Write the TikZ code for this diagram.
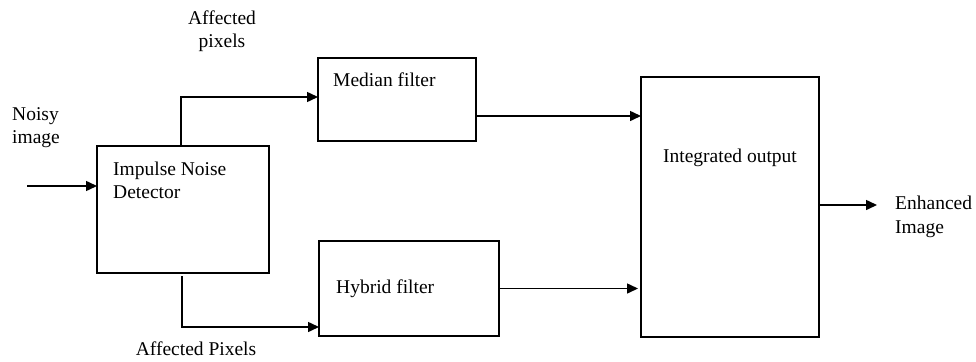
\documentclass[tikz,border=0pt]{standalone}
\usepackage{fontspec}
\setmainfont{Liberation Serif}
\usetikzlibrary{arrows.meta,calc}
\begin{document}
\begin{tikzpicture}[x=1pt,y=-1pt,
  box/.style={draw,line width=1.5pt,inner sep=0pt,outer sep=0pt},
  lbl/.style={inner sep=0pt,font=\fontsize{19.5}{24}\selectfont},
  arr/.style={line width=1.5pt,-{Triangle[length=11pt,width=10pt]}},
  ln/.style={line width=1.5pt}]
\useasboundingbox (0,0) rectangle (976,361);
% boxes
\node[box,minimum width=172pt,minimum height=127pt] (det) at (183,209.5) {};
\node[box,minimum width=158pt,minimum height=83pt] (med) at (397,99.5) {};
\node[box,minimum width=180pt,minimum height=95pt] (hyb) at (409,288.5) {};
\node[box,minimum width=178pt,minimum height=260pt] (integ) at (730,207) {};
% box texts
\node[lbl,anchor=base west] (detA) at (113,175) {Impulse Noise};
\node[lbl,anchor=base west] (detB) at (113,198) {Detector};
\node[lbl,anchor=base west] (medT) at (333,86) {Median filter};
\node[lbl,anchor=base west] (hybT) at (336,293) {Hybrid filter};
\node[lbl,anchor=base] (intT) at (730,162) {Integrated output};
% outside labels
\node[lbl,anchor=base west] (noisyA) at (12,120) {Noisy};
\node[lbl,anchor=base west] (noisyB) at (12,143) {image};
\node[lbl,anchor=base] (affA) at (222,25) {Affected};
\node[lbl,anchor=base] (affB) at (222,48) {pixels};
\node[lbl,anchor=base] (affC) at (196,355) {Affected Pixels};
\node[lbl,anchor=base west] (enhA) at (895,209) {Enhanced};
\node[lbl,anchor=base west] (enhB) at (895,233) {Image};
% connectors
\coordinate (inS) at (27,186);
\draw[arr] (inS) -- (inS -| det.west);
\draw[arr] ([xshift=-2pt]det.north) |- ([yshift=2.5pt]med.west);
\draw[arr] ([xshift=-1pt,yshift=-3pt]det.south) |- ([yshift=-38.5pt]hyb.west);
\draw[arr] ([yshift=-16.5pt]med.east) -- ([yshift=-16.5pt]med.east -| integ.west);
\draw[arr] (hyb.east) -- ([xshift=-3pt]hyb.east -| integ.west);
\coordinate (outE) at (877,205);
\draw[arr] (integ.east |- outE) -- (outE);
\end{tikzpicture}
\end{document}
